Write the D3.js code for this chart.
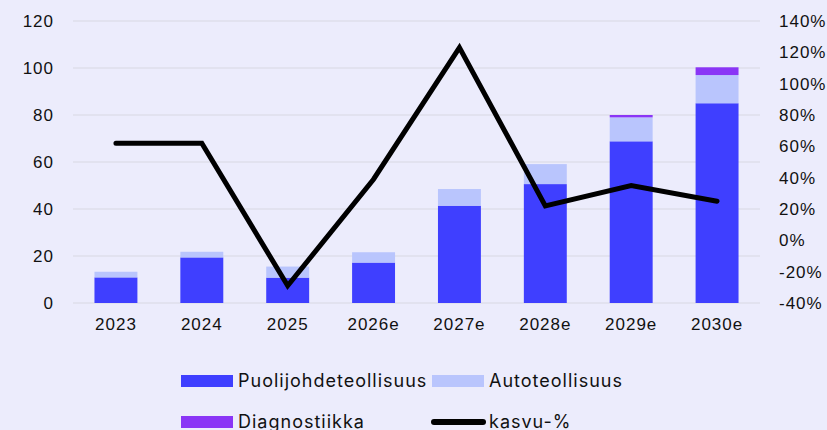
<!DOCTYPE html>
<html>
<head>
<meta charset="utf-8">
<script src="https://cdn.jsdelivr.net/npm/d3@7"></script>
<style>
  html, body { margin: 0; padding: 0; background: #ECECFC; }
  svg { display: block; font-family: Inter, "Open Sans", sans-serif; }
  svg text { letter-spacing: 1px; }
</style>
</head>
<body>
<div id="chart"></div>
<script>
// Data
const years = ['2023', '2024', '2025', '2026e', '2027e', '2028e', '2029e', '2030e'];
const puolijohde = [10.9, 19.4, 10.8, 17.2, 41.4, 50.6, 68.8, 85.0];
const auto = [2.4, 2.4, 4.7, 4.4, 7.1, 8.5, 10.2, 12.0];
const diagnostiikka = [0, 0, 0, 0, 0, 0, 1.0, 3.3];
const kasvu = [62, 62, -29, 39, 123, 22, 35, 25];

const leftTicks = [0, 20, 40, 60, 80, 100, 120];
const rightTicks = [-40, -20, 0, 20, 40, 60, 80, 100, 120, 140];

const seriesNames = ['Puolijohdeteollisuus', 'Autoteollisuus', 'Diagnostiikka'];
const colors = ['#3F3FFF', '#B9C5FD', '#8A35F6'];

const W = 827, H = 430;
const svg = d3.select('#chart').append('svg')
    .attr('width', W)
    .attr('height', H);

svg.append('rect').attr('width', W).attr('height', H).attr('fill', '#ECECFC');

const x = d3.scaleBand()
    .domain(years)
    .range([73, 760])
    .paddingInner(0.5)
    .paddingOuter(0.25);

const yL = d3.scaleLinear().domain([0, 120]).range([303, 21]);
const yR = d3.scaleLinear().domain([-40, 140]).range([303, 21]);

// Grid
svg.append('g')
    .selectAll('line')
    .data(leftTicks)
    .join('line')
    .attr('x1', 73)
    .attr('x2', 760)
    .attr('y1', d => yL(d))
    .attr('y2', d => yL(d))
    .attr('stroke', '#D7D7E2')
    .attr('stroke-width', 1.2);

// Stacked bars
const table = years.map((y, i) => ({
    year: y,
    Puolijohdeteollisuus: puolijohde[i],
    Autoteollisuus: auto[i],
    Diagnostiikka: diagnostiikka[i]
}));
const stack = d3.stack().keys(seriesNames)(table);

svg.append('g')
    .selectAll('g')
    .data(stack)
    .join('g')
    .attr('fill', (d, i) => colors[i])
    .selectAll('rect')
    .data(d => d)
    .join('rect')
    .attr('x', d => x(d.data.year))
    .attr('y', d => yL(d[1]))
    .attr('width', x.bandwidth())
    .attr('height', d => yL(d[0]) - yL(d[1]));

// Growth line
const line = d3.line()
    .x((d, i) => x(years[i]) + x.bandwidth() / 2)
    .y(d => yR(d));

svg.append('path')
    .datum(kasvu)
    .attr('d', line)
    .attr('fill', 'none')
    .attr('stroke', '#000')
    .attr('stroke-width', 5)
    .attr('stroke-linecap', 'round')
    .attr('stroke-linejoin', 'miter');

// Left axis
const leftAxis = svg.append('g')
    .attr('transform', 'translate(54,0)')
    .call(d3.axisLeft(yL).tickValues(leftTicks).tickSize(0).tickPadding(0));
leftAxis.select('.domain').remove();
leftAxis.selectAll('text')
    .style('font-size', '17px')
    .style('fill', '#111');

// Right axis
const rightAxis = svg.append('g')
    .attr('transform', 'translate(779,0)')
    .call(d3.axisRight(yR).tickValues(rightTicks).tickSize(0).tickPadding(0)
        .tickFormat(d => d + '%'));
rightAxis.select('.domain').remove();
rightAxis.selectAll('text')
    .style('font-size', '17px')
    .style('fill', '#111');

// Bottom axis
const bottomAxis = svg.append('g')
    .attr('transform', 'translate(0,303)')
    .call(d3.axisBottom(x).tickSize(0).tickPadding(15));
bottomAxis.select('.domain').remove();
bottomAxis.selectAll('text')
    .style('font-size', '17px')
    .style('fill', '#111');

// Legend
const legendItems = [
    { name: seriesNames[0], type: 'rect', color: colors[0], x: 181, y: 381 },
    { name: seriesNames[1], type: 'rect', color: colors[1], x: 432, y: 381 },
    { name: seriesNames[2], type: 'rect', color: colors[2], x: 181, y: 422 },
    { name: 'kasvu-%', type: 'line', color: '#000', x: 432, y: 422 }
];

const legend = svg.append('g');
legendItems.forEach(item => {
    const g = legend.append('g').attr('transform', `translate(${item.x},${item.y})`);
    if (item.type === 'rect') {
        g.append('rect')
            .attr('x', 0).attr('y', -6)
            .attr('width', 52).attr('height', 12)
            .attr('fill', item.color);
    } else {
        g.append('line')
            .attr('x1', 2).attr('x2', 51)
            .attr('y1', 0).attr('y2', 0)
            .attr('stroke', item.color)
            .attr('stroke-width', 6)
            .attr('stroke-linecap', 'round');
    }
    g.append('text')
        .attr('x', 57)
        .attr('y', 6)
        .style('font-size', '18px')
        .style('fill', '#111')
        .text(item.name);
});
</script>
</body>
</html>
